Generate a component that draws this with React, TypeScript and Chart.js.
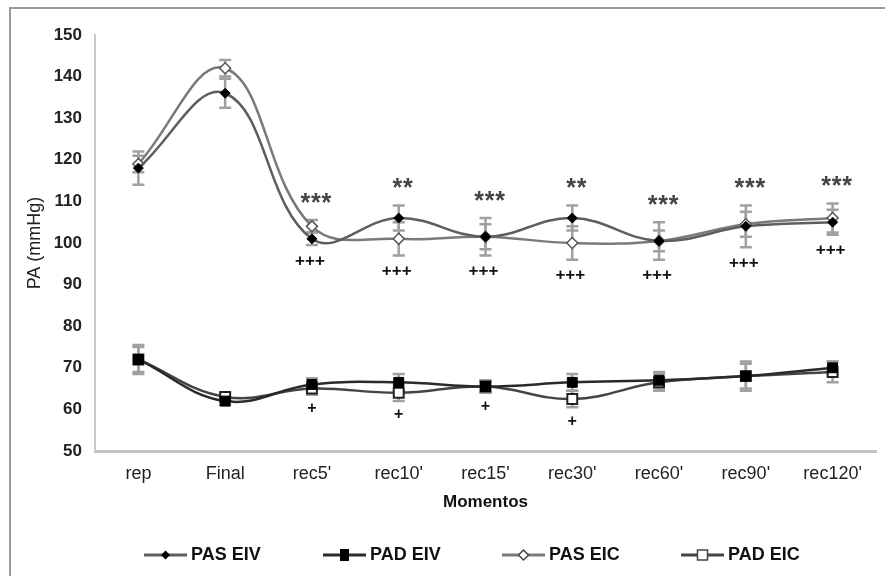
import React, { useEffect, useRef } from "react";
import Chart from "chart.js/auto";

const categories = ["rep", "Final", "rec5'", "rec10'", "rec15'", "rec30'", "rec60'", "rec90'", "rec120'"];

const pasEIV = [118, 136, 101, 106, 101.5, 106, 100.5, 104, 105];
const pasEIVsd = [4, 3.5, 1.5, 3, 3, 3, 4.5, 5, 3];
const padEIV = [72, 62, 66, 66.5, 65.5, 66.5, 67, 68, 70];
const padEIVsd = [3.5, 1, 1.5, 2, 1.5, 2, 2, 3.5, 1.5];
const pasEIC = [119, 142, 104, 101, 101.5, 100, 100.5, 104.5, 106];
const pasEICsd = [2, 2, 1.5, 4, 4.5, 4, 2.5, 3, 3.5];
const padEIC = [72, 63, 65, 64, 65.5, 62.5, 66.5, 68, 69];
const padEICsd = [3, 1, 1.5, 2, 1.5, 2, 2, 3, 2.5];

const pasStars = ["", "", "***", "**", "***", "**", "***", "***", "***"];
const pasPlus = ["", "", "+++", "+++", "+++", "+++", "+++", "+++", "+++"];
const padPlus = ["", "", "+", "+", "+", "+", "", "", ""];

const seriesNames = ["PAS EIV", "PAD EIV", "PAS EIC", "PAD EIC"];
const yMin = 50;
const yMax = 150;
const yStep = 10;

const FONT = "'Liberation Sans', Arial, sans-serif";
const sdList = [pasEIVsd, padEIVsd, pasEICsd, padEICsd];

function drawMarker(ctx: CanvasRenderingContext2D, kind: number, x: number, y: number) {
  ctx.save();
  ctx.beginPath();
  if (kind === 0 || kind === 2) {
    const r = kind === 0 ? 4.5 : 5;
    ctx.moveTo(x, y - r);
    ctx.lineTo(x + r, y);
    ctx.lineTo(x, y + r);
    ctx.lineTo(x - r, y);
    ctx.closePath();
  } else if (kind === 1) {
    ctx.rect(x - 4.5, y - 6, 9, 12);
  } else {
    ctx.rect(x - 5, y - 5, 10, 10);
  }
  if (kind === 0 || kind === 1) {
    ctx.fillStyle = "#000";
    ctx.fill();
  } else {
    ctx.fillStyle = "#fff";
    ctx.fill();
    ctx.lineWidth = 1.5;
    ctx.strokeStyle = "#444";
    ctx.stroke();
  }
  ctx.restore();
}

const framePlugin = {
  id: "frame",
  beforeDraw(chart: any) {
    const ctx = chart.ctx;
    ctx.save();
    ctx.strokeStyle = "#9a9a9a";
    ctx.lineWidth = 2;
    ctx.beginPath();
    ctx.moveTo(10, 576);
    ctx.lineTo(10, 8);
    ctx.lineTo(885, 8);
    ctx.stroke();
    ctx.restore();
  },
};

const errorPlugin = {
  id: "errorBars",
  beforeDatasetsDraw(chart: any) {
    const ctx = chart.ctx;
    const ys = chart.scales.y;
    chart.data.datasets.forEach((ds: any, i: number) => {
      const meta = chart.getDatasetMeta(i);
      const sd = sdList[i];
      meta.data.forEach((pt: any, j: number) => {
        const v = ds.data[j] as number;
        const x = pt.x;
        const yt = ys.getPixelForValue(v + sd[j]);
        const yb = ys.getPixelForValue(v - sd[j]);
        ctx.save();
        ctx.strokeStyle = "#a0a0a0";
        ctx.lineWidth = 2.5;
        ctx.beginPath();
        ctx.moveTo(x, yt);
        ctx.lineTo(x, yb);
        ctx.moveTo(x - 6, yt);
        ctx.lineTo(x + 6, yt);
        ctx.moveTo(x - 6, yb);
        ctx.lineTo(x + 6, yb);
        ctx.stroke();
        ctx.restore();
      });
    });
  },
};

const annotationPlugin = {
  id: "annotations",
  afterDatasetsDraw(chart: any) {
    const ctx = chart.ctx;
    const xs = chart.scales.x;
    const ys = chart.scales.y;
    ctx.save();
    ctx.textAlign = "center";
    ctx.textBaseline = "middle";
    categories.forEach((_, j) => {
      const x = xs.getPixelForValue(j);
      const top = Math.max(pasEIV[j] + pasEIVsd[j], pasEIC[j] + pasEICsd[j]);
      const low = Math.min(pasEIV[j] - pasEIVsd[j], pasEIC[j] - pasEICsd[j]);
      const padLow = Math.min(padEIV[j] - padEIVsd[j], padEIC[j] - padEICsd[j]);
      if (pasStars[j]) {
        ctx.font = `bold 25px ${FONT}`;
        ctx.fillStyle = "#444";
        const s = pasStars[j];
        const y = ys.getPixelForValue(top) - 22 + 6;
        const sp = 10.5;
        for (let k = 0; k < s.length; k++) {
          ctx.fillText(s[k], x + 4 + (k - (s.length - 1) / 2) * sp, y);
        }
      }
      if (pasPlus[j]) {
        ctx.font = `bold 17px ${FONT}`;
        ctx.fillStyle = "#111";
        ctx.fillText(pasPlus[j], x - 2, ys.getPixelForValue(low) + 16);
      }
      if (padPlus[j]) {
        ctx.font = `bold 16px ${FONT}`;
        ctx.fillStyle = "#111";
        ctx.fillText(padPlus[j], x, ys.getPixelForValue(padLow) + 14);
      }
    });
    ctx.restore();
  },
};

const legendPlugin = {
  id: "customLegend",
  afterDraw(chart: any) {
    const ctx = chart.ctx;
    const y = 555;
    chart.data.datasets.forEach((ds: any, i: number) => {
      const x0 = 144 + i * 179;
      ctx.save();
      ctx.strokeStyle = ds.borderColor;
      ctx.lineWidth = 3;
      ctx.beginPath();
      ctx.moveTo(x0, y);
      ctx.lineTo(x0 + 43, y);
      ctx.stroke();
      ctx.restore();
      drawMarker(ctx, i, x0 + 21.5, y);
      ctx.save();
      ctx.font = `bold 18px ${FONT}`;
      ctx.fillStyle = "#111";
      ctx.textAlign = "left";
      ctx.textBaseline = "middle";
      ctx.fillText(ds.label, x0 + 47, y);
      ctx.restore();
    });
  },
};

export default function App() {
  const ref = useRef<HTMLCanvasElement | null>(null);
  useEffect(() => {
    if (!ref.current) return;
    const chart = new Chart(ref.current, {
      type: "line",
      data: {
        labels: categories,
        datasets: [
          {
            label: seriesNames[0],
            data: pasEIV,
            borderColor: "#5e5e5e",
            borderWidth: 2.5,
            tension: 0.4,
            pointStyle: "rectRot",
            pointRadius: 5,
            pointBackgroundColor: "#000",
            pointBorderColor: "#000",
            pointBorderWidth: 1,
          },
          {
            label: seriesNames[1],
            data: padEIV,
            borderColor: "#2a2a2a",
            borderWidth: 2.5,
            tension: 0.4,
            pointStyle: "rect",
            pointRadius: 7,
            pointBackgroundColor: "#000",
            pointBorderColor: "#000",
            pointBorderWidth: 1,
          },
          {
            label: seriesNames[2],
            data: pasEIC,
            borderColor: "#7a7a7a",
            borderWidth: 2.5,
            tension: 0.4,
            pointStyle: "rectRot",
            pointRadius: 5.5,
            pointBackgroundColor: "#fff",
            pointBorderColor: "#555",
            pointBorderWidth: 1.5,
          },
          {
            label: seriesNames[3],
            data: padEIC,
            borderColor: "#444",
            borderWidth: 2.5,
            tension: 0.4,
            pointStyle: "rect",
            pointRadius: 7,
            pointBackgroundColor: "#fff",
            pointBorderColor: "#222",
            pointBorderWidth: 2,
          },
        ],
      },
      options: {
        animation: false,
        responsive: false,
        devicePixelRatio: 1,
        layout: { padding: { top: 35, right: 7, bottom: 56, left: 0 } },
        plugins: {
          legend: { display: false },
          tooltip: { enabled: false },
        },
        scales: {
          x: {
            type: "category",
            offset: true,
            grid: { display: false, drawTicks: false },
            border: { display: true, color: "#c2c2c2", width: 3 },
            ticks: { color: "#222", font: { family: FONT, size: 18 }, padding: 12, maxRotation: 0, autoSkip: false },
            title: {
              display: true,
              text: "Momentos",
              color: "#111",
              font: { family: FONT, size: 17, weight: "bold" },
              padding: { top: 0, bottom: 7 },
            },
            afterFit: (s: any) => {
              s.height = 69;
            },
          },
          y: {
            min: yMin,
            max: yMax,
            grid: { display: false, drawTicks: false },
            border: { display: true, color: "#c8c8c8", width: 2 },
            ticks: { stepSize: yStep, color: "#222", font: { family: FONT, size: 17, weight: "bold" }, padding: 13 },
            title: {
              display: true,
              text: "PA (mmHg)",
              color: "#222",
              font: { family: FONT, size: 18 },
              padding: { top: 24, bottom: 0 },
            },
            afterFit: (s: any) => {
              s.width = 95;
            },
          },
        },
      },
      plugins: [framePlugin, errorPlugin, annotationPlugin, legendPlugin],
    });
    return () => chart.destroy();
  }, []);
  return (
    <div style={{ position: "fixed", left: 0, top: 0, width: 885, height: 576, background: "#fff" }}>
      <canvas ref={ref} width={885} height={576} />
    </div>
  );
}
